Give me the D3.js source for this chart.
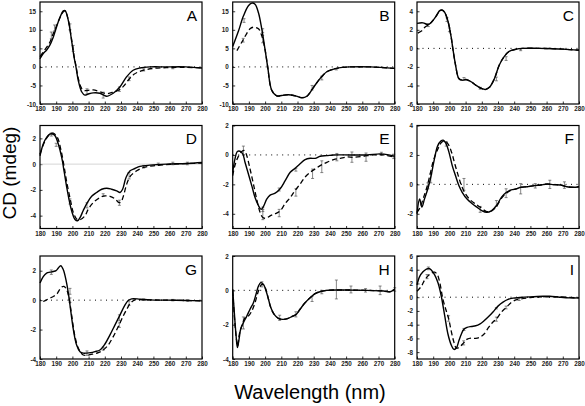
<!DOCTYPE html>
<html><head><meta charset="utf-8">
<script src="https://cdn.jsdelivr.net/npm/d3@7/dist/d3.min.js"></script>
<style>
body{margin:0;background:#fff;}
svg{display:block;font-family:"Liberation Sans",Arial,sans-serif;}
.tick text{font-size:6.3px;font-weight:bold;fill:#222;}
</style></head>
<body><svg id="c" width="585" height="406"></svg>
<script>
const panelLabels = ["A","B","C","D","E","F","G","H","I"];
const xTicks = [180,190,200,210,220,230,240,250,260,270,280];
const yDomains = [[-10,17.5],[-10,17.5],[-6,5],[-5,3],[-5,2],[-3,4],[-4,3],[-4,2],[-9,6]];
const yTicks = [[-10,-5,0,5,10,15],[-10,-5,0,5,10,15],[-6,-4,-2,0,2,4],[-4,-2,0,2],[-4,-2,0,2],[-2,0,2,4],[-4,-2,0,2],[-4,-2,0,2],[-8,-6,-4,-2,0,2,4,6]];

const solidA = [[180,2.2],[182,3.6],[184,4.5],[186,5.8],[188,7.8],[190,10.5],[192,13],[194.4,15.1],[195.5,15.2],[197.5,12.5],[199.5,7.1],[201,2.7],[202.2,0],[203.6,-3.6],[205.7,-6.7],[207.7,-7.6],[209.8,-7.3],[212.9,-7.0],[217,-7.1],[221,-7.9],[225.2,-7.1],[229.3,-5.4],[233.4,-2.7],[237.5,-0.9],[241.6,-0.3],[247.8,0],[258,0],[270,0],[280,-0.3]];
const dashedA = [[180,2.8],[183,4.6],[186,6.6],[188,8.8],[190,10.8],[192,13],[194.4,14.9],[195.5,15.1],[197.5,12.6],[199.5,7.4],[201,3],[202.2,0.3],[203.6,-3],[205.7,-5.8],[207.7,-6.4],[209.8,-6.3],[212.9,-6.2],[217,-6.7],[221,-7.2],[225.2,-6.8],[229.3,-6.1],[232,-5.0],[234.4,-3.6],[238,-2.0],[241.6,-1.2],[245.7,-0.7],[250,-0.4],[258,-0.2],[270,-0.1],[280,-0.3]];
const errA = [[187,8.5,0.9],[189,10.5,0.8],[198.5,10.8,0.8],[200.5,5,0.8],[209,-6.6,0.7],[219,-7.6,0.8],[229,-6,0.6],[235,-3.2,0.5],[244,-0.8,0.3],[262,-0.2,0.3]];

const solidB = [[180,5.5],[183.5,9.6],[186.6,13.7],[189.7,16.5],[191.8,17.2],[193.8,16.9],[195.9,14.6],[198,10.1],[200,4.6],[201.6,0],[204.1,-6.3],[207.2,-7.8],[210.3,-7.7],[214.4,-7.5],[218.6,-7.8],[222.7,-8.3],[225.8,-7.9],[229.9,-5.5],[234,-3.1],[238.1,-1.3],[242.3,-0.6],[246.4,-0.2],[252.6,0],[265,0],[280,-0.4]];
const dashedB = [[182.6,4.4],[186.6,7.4],[190.7,10.3],[192.8,10.7],[195.9,10.3],[198,8.3],[200,4.6],[201.6,0],[204.1,-6.3],[207.2,-7.8],[210.3,-7.7],[214.4,-7.5],[218.6,-7.8],[222.7,-8.3],[225.8,-7.9],[229.9,-5.5],[234,-3.1],[238.1,-1.3],[242.3,-0.6],[246.4,-0.2],[252.6,0],[265,0],[280,-0.4]];
const errB = [[187,12.5,0.5],[186.5,7.2,0.5],[198.5,7.5,1],[198.5,9.8,0.5],[229,-5.6,0.6],[235,-3,0.5],[244,-0.6,0.2]];

const solidC = [[180,2.7],[183.7,2.75],[186.8,2.57],[188.8,2.8],[191.9,3.5],[194,4.07],[195.4,4.14],[197,3.9],[199,3.0],[201.1,1.2],[202.1,0],[203.8,-1.8],[205.8,-3.25],[207.9,-3.43],[210.3,-3.36],[213.4,-3.6],[216.5,-4.0],[219.5,-4.3],[222.2,-4.43],[224.7,-4.2],[227.7,-3.3],[230.8,-1.8],[233.9,-0.86],[236.9,-0.32],[241,-0.1],[245.2,0],[255.4,0],[261.6,-0.03],[270,-0.08],[280,-0.2]];
const dashedC = [[180.5,1.65],[183,1.9],[185,2.3],[186.8,2.5],[188.8,2.8],[191.9,3.5],[194,4.05],[195.4,4.12],[197,3.9],[199,3.0],[201.1,1.2],[202.1,0],[203.8,-1.8],[205.8,-3.25],[207.9,-3.43],[210.3,-3.36],[213.4,-3.6],[216.5,-4.0],[219.5,-4.3],[222.2,-4.43],[224.7,-4.2],[227.7,-3.3],[230.8,-1.8],[233.9,-0.86],[236.9,-0.32],[241,-0.1],[245.2,0],[255.4,0],[261.6,-0.03],[270,-0.08],[280,-0.2]];
const errC = [[187,2.5,0.15],[198.5,3.1,0.2],[200,2.0,0.2],[209,-3.3,0.15],[219,-4.3,0.1],[229,-3.3,0.2],[235,-1.1,0.2],[244,-0.15,0.1],[262,0,0.05]];

const solidD = [[180,0.65],[182,1.56],[184.1,2.08],[186.2,2.34],[187.8,2.34],[189.3,2.2],[191.3,1.56],[193.4,0.52],[195,-0.65],[196.5,-1.8],[198.5,-3.1],[200.2,-3.9],[201.6,-4.3],[203.2,-4.4],[204.7,-4.16],[206.7,-3.6],[209.2,-2.99],[211.9,-2.5],[215,-2.2],[218.1,-1.95],[221.2,-1.87],[224.2,-1.95],[227.3,-2.08],[229.4,-2.2],[231,-1.95],[233.1,-1.04],[235.6,-0.52],[238.6,-0.34],[241.7,-0.18],[247.9,-0.08],[258.2,0],[270.5,0.05],[280,0.13]];
const dashedD = [[180,0.78],[183.1,1.8],[186.2,2.34],[188.2,2.4],[190.7,2.08],[192.8,1.17],[194.8,-0.13],[196.5,-1.4],[198.9,-2.86],[200.6,-3.77],[203,-4.3],[205,-4.3],[207.8,-4.0],[209.8,-3.5],[212.9,-2.99],[217,-2.6],[220.1,-2.47],[223.2,-2.5],[226.3,-2.7],[228.8,-2.99],[230,-2.94],[231.5,-2.47],[233.5,-1.56],[236,-0.9],[239.7,-0.52],[243.8,-0.26],[250,-0.13],[262.3,0],[280,0.08]];
const errD = [[187,2.3,0.12],[190,1.5,0.12],[198.5,-2.9,0.2],[209,-3.2,0.2],[219,-2.4,0.1],[229,-3.0,0.2],[235,-0.9,0.25],[244,-0.2,0.1],[253,0,0.08],[262,0.05,0.1],[271,0.05,0.1]];

const solidE = [[180,-1.18],[181.4,-0.27],[182.9,0.23],[184.5,0.25],[186.2,0.07],[187.6,-0.5],[189.7,-1.3],[191.8,-2.1],[193.8,-2.9],[195.9,-3.45],[197.5,-3.7],[199,-3.5],[201,-3.0],[203.1,-2.73],[206.2,-2.6],[209.3,-2.3],[212.4,-1.75],[215.5,-1.18],[218.6,-0.9],[221.6,-0.6],[224.7,-0.32],[227.8,-0.23],[230.9,-0.23],[234,-0.09],[238.1,-0.05],[242.3,0],[252.6,0],[262.9,0],[271.1,0.07],[276.3,0],[280,-0.1]];
const dashedE = [[180,-1.4],[181.4,-0.7],[183.5,-0.1],[185.6,0.23],[187.2,0.3],[188.7,-0.05],[190.7,-0.95],[192.8,-1.98],[194.8,-3.0],[196.9,-3.9],[198.6,-4.25],[200.6,-4.3],[203.1,-4.14],[206.2,-4.0],[209.3,-3.8],[212.4,-3.3],[215.5,-2.9],[218.6,-2.4],[221.6,-1.98],[224.7,-1.5],[227.8,-1.18],[230.9,-0.95],[234,-0.73],[238.1,-0.5],[242.3,-0.32],[246.4,-0.23],[250.5,-0.14],[254.6,-0.16],[260.8,-0.09],[267,0],[273.2,0],[280,-0.16]];
const errE = [[186.6,0.3,0.3],[198.6,-4.05,0.35],[198.6,-3.7,0.15],[208.7,-3.95,0.25],[208.7,-2.35,0.1],[219,-2.55,0.25],[219,-1.0,0.1],[229.3,-1.28,0.32],[235,-0.8,0.4],[244.3,-0.15,0.25],[253.6,-0.15,0.35],[262.3,-0.15,0.28],[271.8,0.08,0.1],[279.4,-0.1,0.15]];

const solidF = [[180,-2.0],[181.6,-1.0],[183,-1.55],[184.6,-1.0],[186.7,-0.3],[188.7,0.58],[190.7,1.7],[192.7,2.6],[194.7,2.94],[196.2,3.0],[197.8,2.8],[199.8,2.16],[201.8,1.26],[203.8,0.58],[205.9,-0.1],[207.9,-0.54],[210.9,-1.0],[213.9,-1.3],[217,-1.55],[220,-1.78],[223,-1.9],[226.1,-1.78],[229.1,-1.44],[232.1,-0.88],[235.2,-0.54],[238.2,-0.38],[241.2,-0.31],[244.2,-0.2],[248.3,-0.16],[252.3,-0.09],[256.4,-0.04],[260.4,0.02],[264.4,-0.02],[268.5,-0.04],[272.5,-0.16],[276.6,-0.2],[280,-0.16]];
const dashedF = [[180,-1.9],[182,-1.55],[184,-0.9],[186.1,-0.2],[188.1,0.7],[190.1,1.6],[192.7,2.36],[195.4,2.88],[197.4,2.94],[199.4,2.7],[201.4,2.16],[203.4,1.37],[205.5,0.58],[207.5,-0.1],[209.9,-0.65],[212.9,-1.06],[216,-1.33],[219,-1.55],[223,-1.85],[226.1,-1.8],[229.1,-1.5],[232.1,-0.95],[235.2,-0.6],[238.2,-0.4],[241.2,-0.31],[244.2,-0.2],[248.3,-0.16],[252.3,-0.09],[256.4,-0.04],[260.4,0.02],[264.4,-0.02],[268.5,-0.04],[272.5,-0.16],[276.6,-0.2],[280,-0.16]];
const errF = [[186.7,-0.1,0.2],[188.5,0.4,0.3],[198,2.75,0.15],[209,0.0,0.4],[219,-1.7,0.2],[229,-1.3,0.2],[235,-0.6,0.3],[244,-0.3,0.35],[253,-0.1,0.15],[262,0.0,0.28],[271,-0.05,0.22]];

const solidG = [[180,1.16],[182,1.6],[184.1,1.84],[186.2,1.9],[188.2,1.95],[189.9,2.0],[191.3,2.18],[192.8,2.34],[194.4,2.07],[196,1.39],[197.5,0.48],[198.9,-0.66],[200.6,-2.0],[202.6,-3.05],[204.7,-3.5],[206.7,-3.6],[208.8,-3.6],[211.3,-3.57],[213.9,-3.5],[217,-3.39],[220.1,-2.98],[223.2,-2.36],[226.3,-1.68],[229.4,-1.0],[232.5,-0.32],[234.5,-0.02],[236.6,0.09],[241.7,0.07],[247.9,0.02],[258.2,0],[270.5,-0.02],[280,-0.05]];
const dashedG = [[182,-0.09],[184.1,0.02],[186.2,0.14],[188.2,0.25],[190.3,0.4],[192,0.7],[193.4,0.89],[194.8,0.93],[196.5,0.7],[198.1,0.02],[199.5,-1.0],[201.6,-2.48],[203.7,-3.27],[206.7,-3.73],[209.8,-3.73],[212.9,-3.66],[216,-3.57],[219,-3.39],[222.1,-3.05],[225.2,-2.48],[228.3,-1.8],[231.4,-1.07],[233.9,-0.55],[235.9,-0.2],[238.6,0.02],[243.8,0.02],[258.2,0],[280,-0.05]];
const errG = [[187,1.9,0.15],[198.5,0.6,0.2],[198.5,0.0,0.15],[209,-3.6,0.15],[219,-3.3,0.1],[229,-1.2,0.2],[229,-1.7,0.15],[235,-0.2,0.15],[244,0.03,0.05],[262,0,0.05],[271,-0.02,0.05]];

const solidH = [[180,0.06],[181,-1.3],[182.1,-2.66],[182.9,-3.34],[183.9,-2.85],[184.9,-2.27],[186.6,-1.88],[188.7,-1.5],[190.7,-1.1],[192.8,-0.72],[194.4,-0.23],[195.9,0.25],[197.3,0.45],[199,0.35],[200.6,-0.04],[202.1,-0.52],[203.5,-1.0],[205.6,-1.4],[208.2,-1.63],[210.9,-1.69],[213.8,-1.65],[216.5,-1.53],[219.2,-1.4],[221.6,-1.1],[224.7,-0.72],[227.8,-0.43],[230.9,-0.19],[234,-0.08],[238.1,0],[246.4,0.02],[262.9,0],[273.2,-0.04],[277.3,-0.08],[280,0.06]];
const dashedH = [[180,-0.04],[181,-1.5],[182.1,-2.66],[183.1,-3.24],[184.1,-2.56],[185.6,-2.08],[187.6,-1.6],[189.7,-1.5],[191.8,-1.2],[193.8,-0.72],[195.9,-0.04],[198,0.35],[199.6,0.25],[201,-0.1],[202.1,-0.52],[203.5,-1.0],[205.6,-1.4],[208.2,-1.63],[210.9,-1.69],[213.8,-1.65],[216.5,-1.53],[219.2,-1.4],[221.6,-1.1],[224.7,-0.72],[227.8,-0.43],[230.9,-0.19],[234,-0.08],[238.1,0],[246.4,0.02],[262.9,0],[273.2,-0.04],[277.3,-0.08],[280,0.06]];
const errH = [[186.6,-1.9,0.35],[198,0.35,0.15],[209,-1.6,0.15],[219,-1.4,0.15],[229,-0.5,0.15],[235,-0.1,0.1],[244,0.05,0.55],[253,0.05,0.2],[262,0,0.1],[271,0,0.25],[280,0.05,0.1]];

const solidI = [[180,1.8],[181.6,3.0],[183.7,3.7],[185.8,4.1],[187.4,4.2],[188.8,3.97],[190.9,3.25],[193,2.06],[195,0.14],[197.1,-2.7],[199.1,-5.36],[201.2,-7.0],[202.8,-7.6],[204.3,-7.4],[205.9,-6.3],[207.4,-5.36],[208.8,-4.7],[210.9,-4.4],[213.5,-4.26],[216.2,-4.16],[218.7,-3.92],[221.4,-3.44],[224.2,-2.82],[226.9,-2.15],[230,-1.3],[233.1,-0.72],[236.2,-0.33],[239.3,-0.14],[243.4,-0.05],[249.5,0.05],[257.8,0.14],[261.9,0.14],[268.1,0],[274.2,-0.1],[280,-0.1]];
const dashedI = [[180,0.86],[182.7,1.6],[184.7,2.5],[186.8,3.1],[188.8,3.5],[190.9,3.64],[192.5,3.3],[194,2.2],[196,-0.3],[197.8,-1.8],[199.5,-3.1],[201,-4.8],[202.5,-6.3],[204.3,-7.4],[206,-7.3],[208.8,-6.65],[211,-6.1],[213.5,-5.95],[216.2,-6.0],[218.7,-5.84],[221.4,-5.36],[224.2,-4.4],[226.9,-3.6],[229,-3.2],[232,-2.2],[235,-1.5],[238,-0.8],[241,-0.4],[244,-0.25],[250,-0.05],[256,0.05],[266,0.05],[280,-0.1]];
const errI = [[187,4.2,0.2],[186.2,3.0,0.3],[199.5,-3.1,0.4],[208.8,-6.65,0.3],[209,-4.7,0.15],[229,-3.2,0.3],[229,-1.6,0.1],[235,-1.5,0.2],[243,-0.33,0.15]];

const solids = [solidA,solidB,solidC,solidD,solidE,solidF,solidG,solidH,solidI];
const dashes = [dashedA,dashedB,dashedC,dashedD,dashedE,dashedF,dashedG,dashedH,dashedI];
const errs = [errA,errB,errC,errD,errE,errF,errG,errH,errI];

const svg = d3.select("#c");
const colX = [40, 232.7, 417];
const rowY = [[2,104],[125.5,228.5],[256,359]];
const W = 162;
const fmt = d => String(d);

panelLabels.forEach((lab, i) => {
  const c = i % 3, r = Math.floor(i / 3);
  const x0 = colX[c], y0 = rowY[r][0], y1 = rowY[r][1];
  const x = d3.scaleLinear().domain([180,280]).range([x0, x0 + W]);
  const y = d3.scaleLinear().domain(yDomains[i]).range([y1, y0]);
  const g = svg.append("g");

  g.append("g").attr("transform", `translate(0,${y1})`)
    .call(d3.axisBottom(x).tickValues(xTicks).tickFormat(fmt).tickSize(-2.5).tickPadding(3))
    .call(a => a.select(".domain").remove());
  g.append("g").attr("transform", `translate(${x0},0)`)
    .call(d3.axisLeft(y).tickValues(yTicks[i]).tickFormat(fmt).tickSize(-2.5).tickPadding(4))
    .call(a => a.select(".domain").remove());
  g.selectAll(".tick line").attr("stroke", "#000").attr("stroke-width", 0.8);

  // zero line
  g.append("line").attr("x1", x(180)).attr("x2", x(280))
    .attr("y1", y(0)).attr("y2", y(0))
    .attr("stroke", i === 3 ? "#ccc" : "#000").attr("stroke-width", i === 3 ? 0.8 : 1)
    .attr("stroke-dasharray", i === 3 ? null : "1,4.5");

  const line = d3.line().x(d => x(d[0])).y(d => y(d[1])).curve(d3.curveCatmullRom.alpha(0.5));

  // error bars
  const eb = g.append("g").attr("stroke", "#555").attr("stroke-width", 0.7);
  errs[i].forEach(d => {
    const xx = x(d[0]), ya = y(d[1] - d[2]), yb = y(d[1] + d[2]);
    eb.append("line").attr("x1", xx).attr("x2", xx).attr("y1", ya).attr("y2", yb);
    eb.append("line").attr("x1", xx - 1.5).attr("x2", xx + 1.5).attr("y1", ya).attr("y2", ya);
    eb.append("line").attr("x1", xx - 1.5).attr("x2", xx + 1.5).attr("y1", yb).attr("y2", yb);
  });

  g.append("path").datum(dashes[i]).attr("d", line).attr("fill", "none")
    .attr("stroke", "#000").attr("stroke-width", 1.3).attr("stroke-dasharray", "5,3");
  g.append("path").datum(solids[i]).attr("d", line).attr("fill", "none")
    .attr("stroke", "#000").attr("stroke-width", 1.4);

  g.append("rect").attr("x", x0).attr("y", y0).attr("width", W).attr("height", y1 - y0)
    .attr("fill", "none").attr("stroke", "#000").attr("stroke-width", 1.2);

  g.append("text").attr("x", x0 + W - 5).attr("y", y0 + 18.5)
    .attr("text-anchor", "end").attr("font-size", 15.5).attr("fill", "#000").text(lab);
});

svg.append("text").attr("transform", "translate(16,173) rotate(-90)")
  .attr("text-anchor", "middle").attr("font-size", 19).text("CD (mdeg)");
svg.append("text").attr("x", 310).attr("y", 399)
  .attr("text-anchor", "middle").attr("font-size", 20).text("Wavelength (nm)");
</script></body></html>
